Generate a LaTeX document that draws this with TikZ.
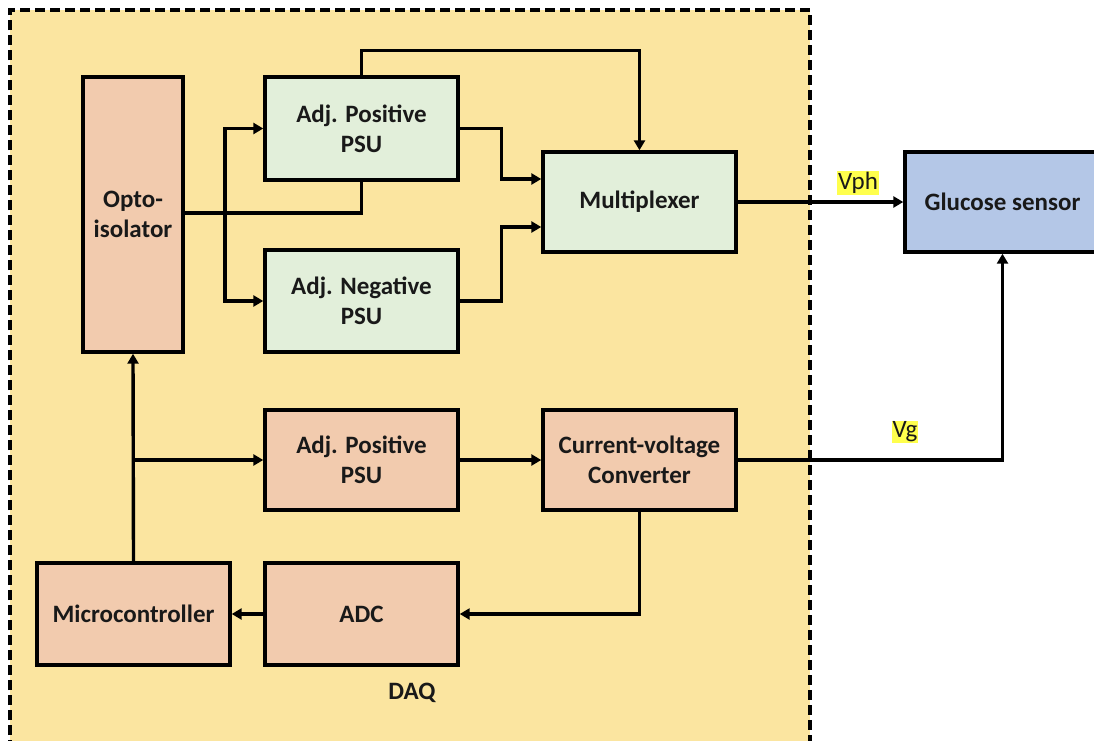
\documentclass[tikz,border=0pt]{standalone}
\usepackage{fontspec}
\setmainfont{Carlito}
\usetikzlibrary{arrows.meta}
\definecolor{daqfill}{HTML}{FBE5A0}
\definecolor{orangebox}{HTML}{F2CBAE}
\definecolor{greenbox}{HTML}{E2EFDA}
\definecolor{bluebox}{HTML}{B4C7E7}
\definecolor{hilite}{HTML}{FFFF4D}
\tikzset{
  block/.style={draw=black, line width=3.4pt, inner sep=2pt, align=center,
    font=\fontsize{25}{30}\selectfont\bfseries, text=black!90},
  orangeblock/.style={block, fill=orangebox},
  greenblock/.style={block, fill=greenbox},
  blueblock/.style={block, fill=bluebox},
  wire/.style={line width=3.4pt, draw=black},
  arrowwire/.style={wire, -{Triangle[length=10pt,width=11pt]}},
  siglabel/.style={fill=hilite, inner sep=1pt, font=\fontsize{25}{28}\selectfont, text=black!90}
}
\begin{document}
\begin{tikzpicture}[x=1pt,y=-1pt]
\useasboundingbox (0,0) rectangle (1094,740);
\clip (0,0) rectangle (1094,740);

% DAQ enclosure
\fill[daqfill] (10,10) rectangle (810,750);
\draw[line width=3.2pt, dash pattern=on 10pt off 5pt] (10,750) -- (10,10) -- (810,10) -- (810,750);
\node[font=\fontsize{25}{28}\selectfont\bfseries, text=black!90] (daq) at (412,693) {DAQ};

% blocks
\node[orangeblock, minimum width=100pt, minimum height=275pt] (opto) at (133,214.5) {Opto-\\isolator};
\node[greenblock, minimum width=193pt, minimum height=103pt] (pos) at (361.5,128.5) {Adj. Positive\\PSU};
\node[greenblock, minimum width=193pt, minimum height=102pt] (neg) at (361.5,301) {Adj. Negative\\PSU};
\node[greenblock, minimum width=193pt, minimum height=100pt] (mux) at (639.5,202) {Multiplexer};
\node[blueblock, minimum width=195pt, minimum height=100pt] (glu) at (1002.5,202) {Glucose sensor};
\node[orangeblock, minimum width=193pt, minimum height=100pt] (psu) at (361.5,460) {Adj. Positive\\PSU};
\node[orangeblock, minimum width=193pt, minimum height=100pt] (cv) at (639.5,460) {Current-voltage\\Converter};
\node[orangeblock, minimum width=193pt, minimum height=102pt] (micro) at (133.5,614) {Microcontroller};
\node[orangeblock, minimum width=193pt, minimum height=102pt] (adc) at (361.5,614) {ADC};

% opto-isolator outputs
\coordinate (split) at (225,213);
\draw[wire] (opto.east |- split) -- (split -| pos.south) -- (pos.south);
\draw[arrowwire] (split) |- (pos.west);
\draw[arrowwire] (split) |- (neg.west);

% supplies into the multiplexer
\draw[arrowwire] (pos.north) -- ++(0,-25) -| (mux.north);
\draw[arrowwire] (pos.east) -- ++(42,0) |- ([yshift=23pt]mux.west);
\draw[arrowwire] (neg.east) -- ++(42,0) |- ([yshift=-25pt]mux.west);

% multiplexer to sensor
\draw[arrowwire] (mux.east) -- (glu.west);
\node[siglabel] (vph) at (858,183) {Vph};

% control chain
\draw[arrowwire] (micro.north) -- (opto.south);
\coordinate (mb) at (micro.north |- psu.west);
\draw[arrowwire] (mb) -- (psu.west);
\draw[arrowwire] (psu.east) -- (cv.west);
\draw[arrowwire] (cv.east) -| (glu.south);
\node[siglabel] (vg) at (905,432) {Vg};
\draw[arrowwire] (cv.south) |- (adc.east);
\draw[arrowwire] (adc.west) -- (micro.east);
\end{tikzpicture}
\end{document}
